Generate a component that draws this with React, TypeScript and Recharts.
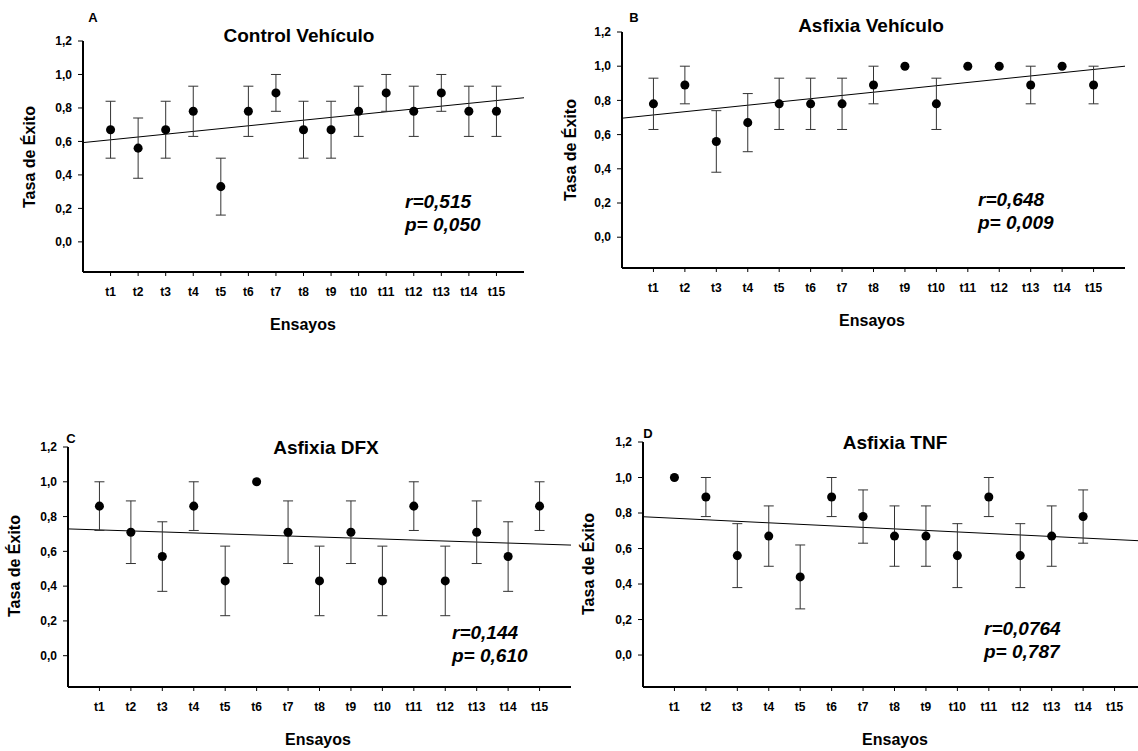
import React from 'react';
import { ScatterChart, Scatter, XAxis, YAxis, ErrorBar, ReferenceLine } from 'recharts';

const trials = ['t1', 't2', 't3', 't4', 't5', 't6', 't7', 't8', 't9', 't10', 't11', 't12', 't13', 't14', 't15'];
const yTicks = [0, 0.2, 0.4, 0.6, 0.8, 1.0, 1.2];

// A - Control Vehículo
const meanA = [0.67, 0.56, 0.67, 0.78, 0.33, 0.78, 0.89, 0.67, 0.67, 0.78, 0.89, 0.78, 0.89, 0.78, 0.78];
const errA = [0.17, 0.18, 0.17, 0.15, 0.17, 0.15, 0.11, 0.17, 0.17, 0.15, 0.11, 0.15, 0.11, 0.15, 0.15];
const fitA = [0.593, 0.861]; // trend line at x = 0 and x = 16

// B - Asfixia Vehículo
const meanB = [0.78, 0.89, 0.56, 0.67, 0.78, 0.78, 0.78, 0.89, 1.0, 0.78, 1.0, 1.0, 0.89, 1.0, 0.89];
const errB = [0.15, 0.11, 0.18, 0.17, 0.15, 0.15, 0.15, 0.11, 0, 0.15, 0, 0, 0.11, 0, 0.11];
const fitB = [0.696, 1.0];

// C - Asfixia DFX
const meanC = [0.86, 0.71, 0.57, 0.86, 0.43, 1.0, 0.71, 0.43, 0.71, 0.43, 0.86, 0.43, 0.71, 0.57, 0.86];
const errC = [0.14, 0.18, 0.2, 0.14, 0.2, 0, 0.18, 0.2, 0.18, 0.2, 0.14, 0.2, 0.18, 0.2, 0.14];
const fitC = [0.729, 0.636];

// D - Asfixia TNF (no t15 value)
const meanD = [1.0, 0.89, 0.56, 0.67, 0.44, 0.89, 0.78, 0.67, 0.67, 0.56, 0.89, 0.56, 0.67, 0.78, null];
const errD = [0, 0.11, 0.18, 0.17, 0.18, 0.11, 0.15, 0.17, 0.17, 0.18, 0.11, 0.18, 0.17, 0.15, null];
const fitD = [0.779, 0.642];

const FONT = '"Liberation Sans", Arial, Helvetica, sans-serif';
const YW = 70;
const TOPM = 10;
const XH = 60;
const RM = 4;

type Box = { left: number; top: number; right: number; bottom: number };
type Pt = { x: number; y: number };

interface PanelProps {
  plot: Box;
  letter: string;
  letterAt: Pt;
  title: string;
  titleAt: Pt;
  means: (number | null)[];
  errs: (number | null)[];
  fit: number[];
  stats: string[];
  statsAt: Pt;
  xLabelAt: Pt;
  yLabelAt: Pt;
}

const txt = (x: number, y: number, extra: React.CSSProperties = {}): React.CSSProperties => ({
  position: 'absolute',
  left: x,
  top: y,
  transform: 'translate(-50%, -50%)',
  whiteSpace: 'nowrap',
  fontFamily: FONT,
  fontWeight: 'bold',
  color: '#000',
  lineHeight: 1,
  ...extra,
});

const Panel: React.FC<PanelProps> = ({
  plot, letter, letterAt, title, titleAt, means, errs, fit, stats, statsAt, xLabelAt, yLabelAt,
}) => {
  const data = means
    .map((m, i) => ({ x: i + 1, y: m, err: errs[i] }))
    .filter((d) => d.y !== null);
  const w = YW + (plot.right - plot.left) + RM;
  const h = TOPM + (plot.bottom - plot.top) + XH;
  return (
    <>
      <div style={{ position: 'absolute', left: plot.left - YW, top: plot.top - TOPM }}>
        <ScatterChart width={w} height={h} margin={{ top: TOPM, right: RM, left: 0, bottom: 0 }}>
          <XAxis
            type="number"
            dataKey="x"
            domain={[0, 16]}
            ticks={trials.map((_, i) => i + 1)}
            tickFormatter={(v: number) => trials[v - 1]}
            height={XH}
            axisLine={{ stroke: '#000', strokeWidth: 2 }}
            tickLine={{ stroke: '#000' }}
            tickSize={4}
            tickMargin={11}
            tick={{ fill: '#000', fontSize: 12, fontWeight: 'bold', fontFamily: FONT }}
            interval={0}
          />
          <YAxis
            type="number"
            dataKey="y"
            domain={[-0.18, 1.2]}
            allowDataOverflow
            ticks={yTicks}
            tickFormatter={(v: number) => v.toFixed(1).replace('.', ',')}
            width={YW}
            axisLine={{ stroke: '#000', strokeWidth: 2 }}
            tickLine={{ stroke: '#000' }}
            tickSize={5}
            tickMargin={6}
            tick={{ fill: '#000', fontSize: 12, fontWeight: 'bold', fontFamily: FONT }}
            interval={0}
          />
          <ReferenceLine
            segment={[{ x: 0, y: fit[0] }, { x: 16, y: fit[1] }]}
            stroke="#000"
            strokeWidth={1}
            ifOverflow="visible"
          />
          <Scatter data={data} fill="#000" isAnimationActive={false}>
            <ErrorBar dataKey="err" direction="y" width={5} stroke="#333" strokeWidth={1} />
          </Scatter>
        </ScatterChart>
      </div>
      <div style={txt(letterAt.x, letterAt.y, { fontSize: 13 })}>{letter}</div>
      <div style={txt(titleAt.x, titleAt.y, { fontSize: 19 })}>{title}</div>
      <div
        style={{
          position: 'absolute',
          left: statsAt.x,
          top: statsAt.y,
          fontFamily: FONT,
          fontWeight: 'bold',
          fontStyle: 'italic',
          fontSize: 19,
          lineHeight: '23px',
          whiteSpace: 'nowrap',
        }}
      >
        {stats.map((s) => (
          <div key={s}>{s}</div>
        ))}
      </div>
      <div style={txt(xLabelAt.x, xLabelAt.y, { fontSize: 16 })}>Ensayos</div>
      <div style={txt(yLabelAt.x, yLabelAt.y, { fontSize: 16, transform: 'translate(-50%, -50%) rotate(-90deg)' })}>
        Tasa de Éxito
      </div>
    </>
  );
};

const App: React.FC = () => (
  <div style={{ position: 'absolute', left: 0, top: 0, width: 1138, height: 751, overflow: 'hidden', background: '#fff' }}>
    <Panel
      plot={{ left: 83, top: 41, right: 524, bottom: 272 }}
      letter="A" letterAt={{ x: 93, y: 17 }}
      title="Control Vehículo" titleAt={{ x: 299, y: 35 }}
      means={meanA} errs={errA} fit={fitA}
      stats={['r=0,515', 'p= 0,050']} statsAt={{ x: 405, y: 190 }}
      xLabelAt={{ x: 303, y: 325 }} yLabelAt={{ x: 30, y: 157 }}
    />
    <Panel
      plot={{ left: 622, top: 32, right: 1125, bottom: 268 }}
      letter="B" letterAt={{ x: 634, y: 17 }}
      title="Asfixia Vehículo" titleAt={{ x: 871, y: 25 }}
      means={meanB} errs={errB} fit={fitB}
      stats={['r=0,648', 'p= 0,009']} statsAt={{ x: 978, y: 188 }}
      xLabelAt={{ x: 872, y: 321 }} yLabelAt={{ x: 571, y: 150 }}
    />
    <Panel
      plot={{ left: 68, top: 447, right: 571, bottom: 687 }}
      letter="C" letterAt={{ x: 71, y: 438 }}
      title="Asfixia DFX" titleAt={{ x: 326, y: 447 }}
      means={meanC} errs={errC} fit={fitC}
      stats={['r=0,144', 'p= 0,610']} statsAt={{ x: 452, y: 621 }}
      xLabelAt={{ x: 318, y: 740 }} yLabelAt={{ x: 15, y: 566 }}
    />
    <Panel
      plot={{ left: 643, top: 442, right: 1146, bottom: 687 }}
      letter="D" letterAt={{ x: 648, y: 433 }}
      title="Asfixia TNF" titleAt={{ x: 895, y: 442 }}
      means={meanD} errs={errD} fit={fitD}
      stats={['r=0,0764', 'p= 0,787']} statsAt={{ x: 984, y: 617 }}
      xLabelAt={{ x: 895, y: 740 }} yLabelAt={{ x: 589, y: 564 }}
    />
  </div>
);

export default App;
